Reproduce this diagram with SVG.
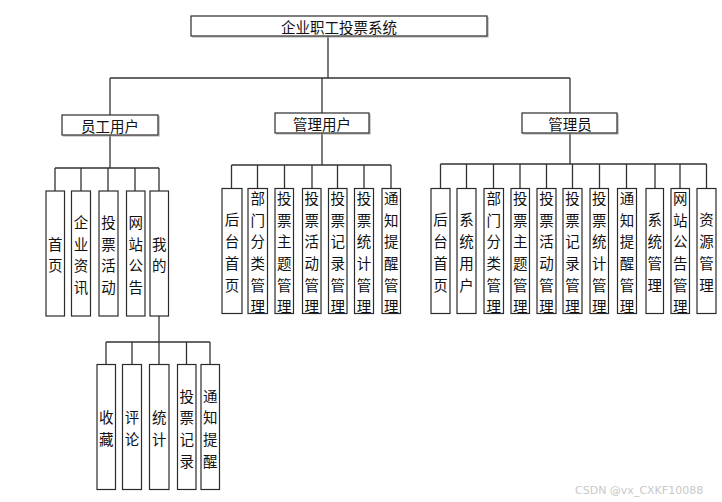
<svg xmlns="http://www.w3.org/2000/svg" width="722" height="502" viewBox="0 0 722 502">
<defs>
<style>
.bx{fill:#fff;stroke:#2b2b2b;stroke-width:1.2}
.sh{fill:none;stroke:#a8a8a8;stroke-width:1.2}
.ln{fill:none;stroke:#333;stroke-width:1.3}
.t{font-family:"Noto Sans CJK SC","Noto Sans",sans-serif;font-size:14.5px;fill:#111;text-anchor:middle;dominant-baseline:central}
.wm{font-family:"DejaVu Sans","Liberation Sans",sans-serif;font-size:11px;fill:#c8c8c8;text-anchor:start;dominant-baseline:central}
</style>
</defs>
<rect width="722" height="502" fill="#fff"/>
<g id="connectors">
<path class="ln" d="M328 36V78M110 78H570M110 78V115M322 78V113M570 78V113"/>
<path class="ln" d="M110 135V168M55 168H159M55 168V191M81 168V191M108 168V191M135 168V191M159 168V191"/>
<path class="ln" d="M322 133V165M231.5 165H391M231.5 165V188M257.5 165V188M284.5 165V188M312 165V188M337.5 165V188M364 165V188M391 165V188"/>
<path class="ln" d="M570 133V164M440.5 164H706.5M440.5 164V188M466.5 164V188M493.5 164V188M520 164V188M546.5 164V188M572.5 164V188M599.5 164V188M626.5 164V188M655 164V188M680 164V188M706.5 164V188"/>
<path class="ln" d="M159 316V342M106 342H210M106 342V364M132 342V364M159 342V364M186.5 342V364M210 342V364"/>
</g>
<g id="root"><path class="sh" d="M488 17V37H192"/><rect class="bx" x="191" y="16" width="296" height="20"/><text class="t" x="339" y="26">企业职工投票系统</text></g>
<g id="yggy"><path class="sh" d="M159 116V136H63"/><rect class="bx" x="62" y="115" width="96" height="20"/><text class="t" x="110" y="125">员工用户</text></g>
<g id="glyh"><path class="sh" d="M370 114V134H276"/><rect class="bx" x="275" y="113" width="94" height="20"/><text class="t" x="322" y="123">管理用户</text></g>
<g id="gly"><path class="sh" d="M618 114V134H523"/><rect class="bx" x="522" y="113" width="95" height="20"/><text class="t" x="570" y="123">管理员</text></g>

<g id="e1"><rect class="bx" x="46" y="191" width="18.5" height="125"/><text class="t" x="55.3" y="242.5"><tspan x="55.3">首</tspan><tspan x="55.3" dy="21.7">页</tspan></text></g>
<g id="e2"><rect class="bx" x="71.5" y="191" width="19" height="125"/><text class="t" x="81" y="221"><tspan x="81">企</tspan><tspan x="81" dy="21.7">业</tspan><tspan x="81" dy="21.7">资</tspan><tspan x="81" dy="21.7">讯</tspan></text></g>
<g id="e3"><rect class="bx" x="99" y="191" width="19" height="125"/><text class="t" x="108.5" y="221"><tspan x="108.5">投</tspan><tspan x="108.5" dy="21.7">票</tspan><tspan x="108.5" dy="21.7">活</tspan><tspan x="108.5" dy="21.7">动</tspan></text></g>
<g id="e4"><rect class="bx" x="126.5" y="191" width="18.5" height="125"/><text class="t" x="135.7" y="221"><tspan x="135.7">网</tspan><tspan x="135.7" dy="21.7">站</tspan><tspan x="135.7" dy="21.7">公</tspan><tspan x="135.7" dy="21.7">告</tspan></text></g>
<g id="e5"><rect class="bx" x="150" y="191" width="18.5" height="125"/><text class="t" x="159.2" y="242.5"><tspan x="159.2">我</tspan><tspan x="159.2" dy="21.7">的</tspan></text></g>

<g id="m1"><rect class="bx" x="97" y="364.5" width="18.5" height="125"/><text class="t" x="106.2" y="416"><tspan x="106.2">收</tspan><tspan x="106.2" dy="21.7">藏</tspan></text></g>
<g id="m2"><rect class="bx" x="122.5" y="364.5" width="19" height="125"/><text class="t" x="132" y="416"><tspan x="132">评</tspan><tspan x="132" dy="21.7">论</tspan></text></g>
<g id="m3"><rect class="bx" x="149.5" y="364.5" width="19.5" height="125"/><text class="t" x="159.2" y="416"><tspan x="159.2">统</tspan><tspan x="159.2" dy="21.7">计</tspan></text></g>
<g id="m4"><rect class="bx" x="177.5" y="364.5" width="18.5" height="125"/><text class="t" x="186.7" y="394.5"><tspan x="186.7">投</tspan><tspan x="186.7" dy="21.7">票</tspan><tspan x="186.7" dy="21.7">记</tspan><tspan x="186.7" dy="21.7">录</tspan></text></g>
<g id="m5"><rect class="bx" x="201" y="364.5" width="18.5" height="125"/><text class="t" x="210.2" y="394.5"><tspan x="210.2">通</tspan><tspan x="210.2" dy="21.7">知</tspan><tspan x="210.2" dy="21.7">提</tspan><tspan x="210.2" dy="21.7">醒</tspan></text></g>

<g id="u1"><rect class="bx" x="222" y="188.5" width="20" height="125"/><text class="t" x="232" y="218.4"><tspan x="232">后</tspan><tspan x="232" dy="21.7">台</tspan><tspan x="232" dy="21.7">首</tspan><tspan x="232" dy="21.7">页</tspan></text></g>
<g id="u2"><rect class="bx" x="248" y="188.5" width="19.5" height="125"/><text class="t" x="257.7" y="196.8"><tspan x="257.7">部</tspan><tspan x="257.7" dy="21.7">门</tspan><tspan x="257.7" dy="21.7">分</tspan><tspan x="257.7" dy="21.7">类</tspan><tspan x="257.7" dy="21.7">管</tspan><tspan x="257.7" dy="21.7">理</tspan></text></g>
<g id="u3"><rect class="bx" x="275" y="188.5" width="18.5" height="125"/><text class="t" x="284.2" y="196.8"><tspan x="284.2">投</tspan><tspan x="284.2" dy="21.7">票</tspan><tspan x="284.2" dy="21.7">主</tspan><tspan x="284.2" dy="21.7">题</tspan><tspan x="284.2" dy="21.7">管</tspan><tspan x="284.2" dy="21.7">理</tspan></text></g>
<g id="u4"><rect class="bx" x="302.5" y="188.5" width="18.5" height="125"/><text class="t" x="311.7" y="196.8"><tspan x="311.7">投</tspan><tspan x="311.7" dy="21.7">票</tspan><tspan x="311.7" dy="21.7">活</tspan><tspan x="311.7" dy="21.7">动</tspan><tspan x="311.7" dy="21.7">管</tspan><tspan x="311.7" dy="21.7">理</tspan></text></g>
<g id="u5"><rect class="bx" x="328.5" y="188.5" width="18.5" height="125"/><text class="t" x="337.7" y="196.8"><tspan x="337.7">投</tspan><tspan x="337.7" dy="21.7">票</tspan><tspan x="337.7" dy="21.7">记</tspan><tspan x="337.7" dy="21.7">录</tspan><tspan x="337.7" dy="21.7">管</tspan><tspan x="337.7" dy="21.7">理</tspan></text></g>
<g id="u6"><rect class="bx" x="354.5" y="188.5" width="19" height="125"/><text class="t" x="364" y="196.8"><tspan x="364">投</tspan><tspan x="364" dy="21.7">票</tspan><tspan x="364" dy="21.7">统</tspan><tspan x="364" dy="21.7">计</tspan><tspan x="364" dy="21.7">管</tspan><tspan x="364" dy="21.7">理</tspan></text></g>
<g id="u7"><rect class="bx" x="382" y="188.5" width="18.5" height="125"/><text class="t" x="391.2" y="196.8"><tspan x="391.2">通</tspan><tspan x="391.2" dy="21.7">知</tspan><tspan x="391.2" dy="21.7">提</tspan><tspan x="391.2" dy="21.7">醒</tspan><tspan x="391.2" dy="21.7">管</tspan><tspan x="391.2" dy="21.7">理</tspan></text></g>

<g id="a1"><rect class="bx" x="431" y="188.5" width="19" height="125"/><text class="t" x="440.5" y="218.4"><tspan x="440.5">后</tspan><tspan x="440.5" dy="21.7">台</tspan><tspan x="440.5" dy="21.7">首</tspan><tspan x="440.5" dy="21.7">页</tspan></text></g>
<g id="a2"><rect class="bx" x="457" y="188.5" width="19" height="125"/><text class="t" x="466.5" y="218.4"><tspan x="466.5">系</tspan><tspan x="466.5" dy="21.7">统</tspan><tspan x="466.5" dy="21.7">用</tspan><tspan x="466.5" dy="21.7">户</tspan></text></g>
<g id="a3"><rect class="bx" x="484" y="188.5" width="19.5" height="125"/><text class="t" x="493.7" y="196.8"><tspan x="493.7">部</tspan><tspan x="493.7" dy="21.7">门</tspan><tspan x="493.7" dy="21.7">分</tspan><tspan x="493.7" dy="21.7">类</tspan><tspan x="493.7" dy="21.7">管</tspan><tspan x="493.7" dy="21.7">理</tspan></text></g>
<g id="a4"><rect class="bx" x="511" y="188.5" width="18.5" height="125"/><text class="t" x="520.2" y="196.8"><tspan x="520.2">投</tspan><tspan x="520.2" dy="21.7">票</tspan><tspan x="520.2" dy="21.7">主</tspan><tspan x="520.2" dy="21.7">题</tspan><tspan x="520.2" dy="21.7">管</tspan><tspan x="520.2" dy="21.7">理</tspan></text></g>
<g id="a5"><rect class="bx" x="537" y="188.5" width="19" height="125"/><text class="t" x="546.5" y="196.8"><tspan x="546.5">投</tspan><tspan x="546.5" dy="21.7">票</tspan><tspan x="546.5" dy="21.7">活</tspan><tspan x="546.5" dy="21.7">动</tspan><tspan x="546.5" dy="21.7">管</tspan><tspan x="546.5" dy="21.7">理</tspan></text></g>
<g id="a6"><rect class="bx" x="563" y="188.5" width="19" height="125"/><text class="t" x="572.5" y="196.8"><tspan x="572.5">投</tspan><tspan x="572.5" dy="21.7">票</tspan><tspan x="572.5" dy="21.7">记</tspan><tspan x="572.5" dy="21.7">录</tspan><tspan x="572.5" dy="21.7">管</tspan><tspan x="572.5" dy="21.7">理</tspan></text></g>
<g id="a7"><rect class="bx" x="590" y="188.5" width="18.5" height="125"/><text class="t" x="599.2" y="196.8"><tspan x="599.2">投</tspan><tspan x="599.2" dy="21.7">票</tspan><tspan x="599.2" dy="21.7">统</tspan><tspan x="599.2" dy="21.7">计</tspan><tspan x="599.2" dy="21.7">管</tspan><tspan x="599.2" dy="21.7">理</tspan></text></g>
<g id="a8"><rect class="bx" x="617.5" y="188.5" width="19" height="125"/><text class="t" x="627" y="196.8"><tspan x="627">通</tspan><tspan x="627" dy="21.7">知</tspan><tspan x="627" dy="21.7">提</tspan><tspan x="627" dy="21.7">醒</tspan><tspan x="627" dy="21.7">管</tspan><tspan x="627" dy="21.7">理</tspan></text></g>
<g id="a9"><rect class="bx" x="646" y="188.5" width="17.5" height="125"/><text class="t" x="654.7" y="218.4"><tspan x="654.7">系</tspan><tspan x="654.7" dy="21.7">统</tspan><tspan x="654.7" dy="21.7">管</tspan><tspan x="654.7" dy="21.7">理</tspan></text></g>
<g id="a10"><rect class="bx" x="671" y="188.5" width="18.5" height="125"/><text class="t" x="680.2" y="196.8"><tspan x="680.2">网</tspan><tspan x="680.2" dy="21.7">站</tspan><tspan x="680.2" dy="21.7">公</tspan><tspan x="680.2" dy="21.7">告</tspan><tspan x="680.2" dy="21.7">管</tspan><tspan x="680.2" dy="21.7">理</tspan></text></g>
<g id="a11"><rect class="bx" x="697" y="188.5" width="19" height="125"/><text class="t" x="706.5" y="218.4"><tspan x="706.5">资</tspan><tspan x="706.5" dy="21.7">源</tspan><tspan x="706.5" dy="21.7">管</tspan><tspan x="706.5" dy="21.7">理</tspan></text></g>

<text class="wm" x="575" y="490.5">CSDN @vx_CXKF10088</text>
</svg>
